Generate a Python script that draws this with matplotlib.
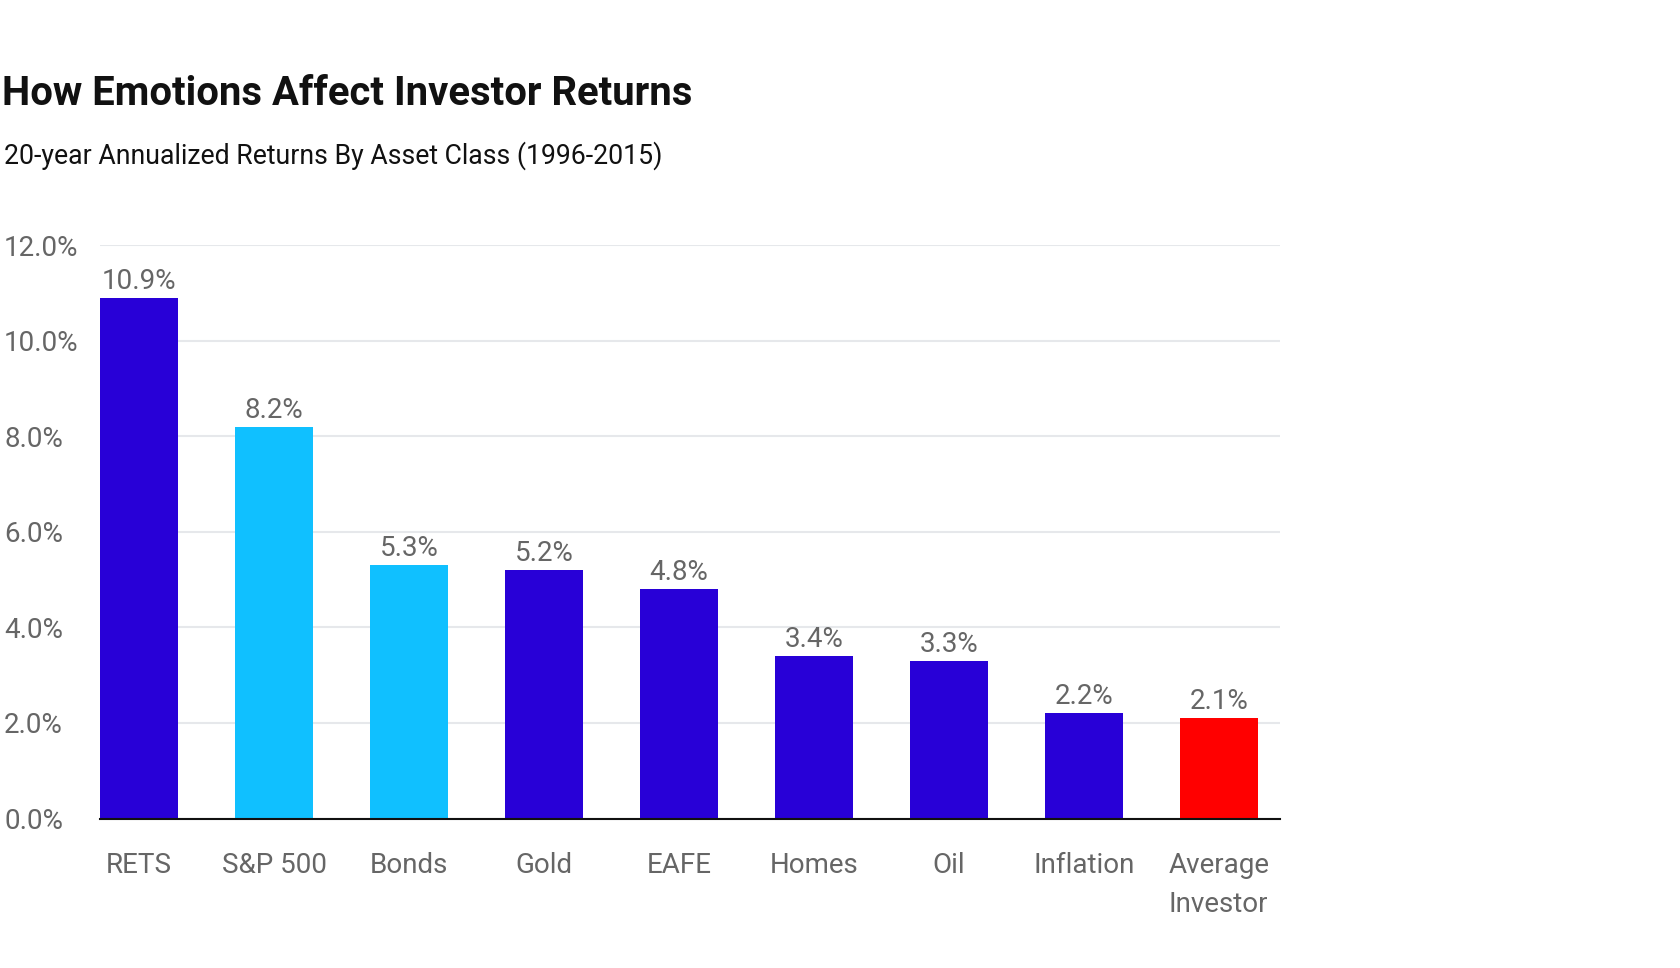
import matplotlib
matplotlib.use("Agg")
import matplotlib.pyplot as plt

categories = ["RETS", "S&P 500", "Bonds", "Gold", "EAFE", "Homes", "Oil", "Inflation", "Average\nInvestor"]
values = [10.9, 8.2, 5.3, 5.2, 4.8, 3.4, 3.3, 2.2, 2.1]
value_labels = ["10.9%", "8.2%", "5.3%", "5.2%", "4.8%", "3.4%", "3.3%", "2.2%", "2.1%"]
bar_colors = ["#2800D7", "#10C0FF", "#10C0FF", "#2800D7", "#2800D7", "#2800D7", "#2800D7", "#2800D7", "#FF0000"]
yticks = [0, 2, 4, 6, 8, 10, 12]
ytick_labels = ["0.0%", "2.0%", "4.0%", "6.0%", "8.0%", "10.0%", "12.0%"]

plt.rcParams['font.family'] = ['Roboto', 'DejaVu Sans']

W, H = 1680, 968
fig = plt.figure(figsize=(W / 100, H / 100), dpi=100)
ax = fig.add_axes([100 / W, (H - 818.5) / H, 1180 / W, 573.2 / H])

x = list(range(len(categories)))
ax.bar(x, values, width=0.578, color=bar_colors, zorder=3)
for xi, v, lab in zip(x, values, value_labels):
    ax.annotate(lab, (xi, v), xytext=(0, 6.5), textcoords='offset points',
                ha='center', va='baseline', fontsize=20, color='#666666')

ax.set_xlim(-0.289, 8.452)
ax.set_ylim(0, 12)
ax.set_yticks(yticks)
ax.set_yticklabels(ytick_labels, fontsize=20, color='#666666', ha='left')
ax.tick_params(axis='y', length=0, pad=69)
ax.set_xticks(x)
ax.set_xticklabels(categories, fontsize=20, color='#666666', linespacing=1.6)
for lbl in ax.get_xticklabels():
    lbl.set_multialignment('left')
ax.tick_params(axis='x', length=0, pad=24)
ax.grid(axis='y', color='#e6e8eb', linewidth=1.5, zorder=0)
for s in ['top', 'right', 'left']:
    ax.spines[s].set_visible(False)
ax.spines['bottom'].set_color('#111111')
ax.spines['bottom'].set_linewidth(1.5)
ax.spines['bottom'].set_zorder(4)

title = fig.text(2 / W, 863 / H, "How Emotions Affect Investor Returns", fontsize=28,
                 fontweight='bold', color='#111111', ha='left', va='baseline')
sub = fig.text(4 / W, 804 / H, "20-year Annualized Returns By Asset Class (1996-2015)",
               fontsize=18, color='#111111', ha='left', va='baseline')

# fit text widths to the reference layout
fig.canvas.draw()
r = fig.canvas.get_renderer()
for t, target in [(title, 689), (sub, 659)]:
    w = t.get_window_extent(r).width
    t.set_fontsize(t.get_fontsize() * target / w)

fig.savefig("out.png", dpi=100, facecolor='white')
